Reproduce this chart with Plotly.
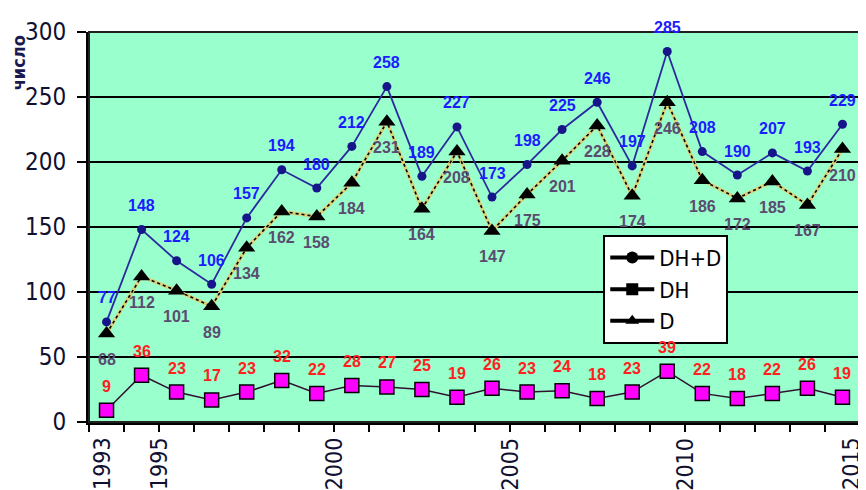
import plotly.graph_objects as go

# ---- data ----
years = list(range(1993, 2015))
dh_d = [77, 148, 124, 106, 157, 194, 180, 212, 258, 189, 227, 173, 198, 225, 246, 197, 285, 208, 190, 207, 193, 229]
dh = [9, 36, 23, 17, 23, 32, 22, 28, 27, 25, 19, 26, 23, 24, 18, 23, 39, 22, 18, 22, 26, 19]
d = [68, 112, 101, 89, 134, 162, 158, 184, 231, 164, 208, 147, 175, 201, 228, 174, 246, 186, 172, 185, 167, 210]
labeled_years = [1993, 1995, 2000, 2005, 2010, 2015]
y_ticks = [0, 50, 100, 150, 200, 250, 300]
series_names = ["DH+D", "DH", "D"]
y_title = "число"

NARROW = "Liberation Sans Narrow, Arial Narrow, DejaVu Sans Condensed, sans-serif"
BOLD = "Liberation Sans, Arial, sans-serif"

xs = [y + 0.5 for y in years]

fig = go.Figure()

# D: yellowish underlay + black dotted line with triangles
fig.add_trace(go.Scatter(x=xs, y=d, mode="lines", line=dict(color="#d9d27a", width=3.5),
                         showlegend=False, hoverinfo="skip"))
fig.add_trace(go.Scatter(x=xs, y=d, mode="lines+markers", line=dict(color="black", width=1.6, dash="dot"),
                         marker=dict(symbol="triangle-up", size=15, color="black"),
                         showlegend=False, name="D"))
# DH+D
fig.add_trace(go.Scatter(x=xs, y=dh_d, mode="lines+markers", line=dict(color="#2b2ba0", width=1.8),
                         marker=dict(symbol="circle", size=9, color="#16168a"),
                         showlegend=False, name="DH+D"))
# DH
fig.add_trace(go.Scatter(x=xs, y=dh, mode="lines+markers", line=dict(color="#301030", width=1.5),
                         marker=dict(symbol="square", size=14, color="#ff00ff",
                                     line=dict(color="black", width=1.5)),
                         showlegend=False, name="DH"))

# legend-only traces (black symbols as in the reference)
for nm, sym in zip(series_names, ["circle", "square", "triangle-up"]):
    fig.add_trace(go.Scatter(x=[None], y=[None], mode="lines+markers", name=nm,
                             line=dict(color="black", width=4),
                             marker=dict(symbol=sym, size=12, color="black")))

ann = []
for x, v in zip(xs, dh_d):
    ann.append(dict(x=x, y=v, text=f"<b>{v}</b>", showarrow=False, yshift=24,
                    font=dict(family=BOLD, size=16, color="#1c1cff")))
for x, v in zip(xs, d):
    ann.append(dict(x=x, y=v, text=f"<b>{v}</b>", showarrow=False, yshift=-26,
                    font=dict(family=BOLD, size=16, color="#5a4c70")))
for x, v in zip(xs, dh):
    ann.append(dict(x=x, y=v, text=f"<b>{v}</b>", showarrow=False, yshift=24,
                    font=dict(family=BOLD, size=16, color="#ff2020")))
ann.append(dict(xref="paper", yref="paper", x=-0.092, y=0.92, text=f"<b>{y_title}</b>",
                textangle=-90, showarrow=False, xanchor="center", yanchor="middle",
                font=dict(family=NARROW, size=18, color="#1a1a50")))

# x-axis year labels (rotated), nudged inward at the ends as in the reference
for v in labeled_years:
    shift = 13 if v == labeled_years[0] else (-9 if v == labeled_years[-1] else 0)
    ann.append(dict(x=v, y=0, xref="x", yref="paper", text=str(v), textangle=-90,
                    showarrow=False, xanchor="center", yanchor="middle", yshift=-42, xshift=shift,
                    font=dict(family=NARROW, size=23, color="#101030")))

tickvals_x = list(range(1993, 2016))

# page body has an 8px margin, so the figure is sized/offset to land on the 866x490 window
fig.update_layout(
    width=858, height=482,
    margin=dict(l=81, r=6, t=24, b=68),
    paper_bgcolor="white", plot_bgcolor="#99ffcc",
    showlegend=True,
    legend=dict(x=0.667, y=0.48, xanchor="left", yanchor="top",
                bgcolor="white", bordercolor="black", borderwidth=2,
                font=dict(family=NARROW, size=22, color="black"),
                tracegroupgap=0, itemwidth=44),
    annotations=ann,
    shapes=[dict(type="rect", xref="paper", yref="paper", x0=0, y0=0, x1=1, y1=1,
                 line=dict(color="#202020", width=2), layer="above")],
)
fig.update_xaxes(range=[1993, 2015], tickvals=tickvals_x, ticktext=[""] * len(tickvals_x),
                 ticks="outside", ticklen=7, tickwidth=2, tickcolor="black", automargin=False,
                 showline=True, linecolor="black", linewidth=3, showgrid=False, zeroline=False)
fig.update_yaxes(range=[0, 300], tickvals=y_ticks, ticks="outside", ticklen=9, tickwidth=2,
                 tickcolor="black", showline=True, linecolor="black", linewidth=3,
                 showgrid=True, gridcolor="black", gridwidth=2, zeroline=False, automargin=False,
                 ticklabelstandoff=6,
                 tickfont=dict(family=NARROW, size=24, color="#101030"))

fig.write_html("out.html")
